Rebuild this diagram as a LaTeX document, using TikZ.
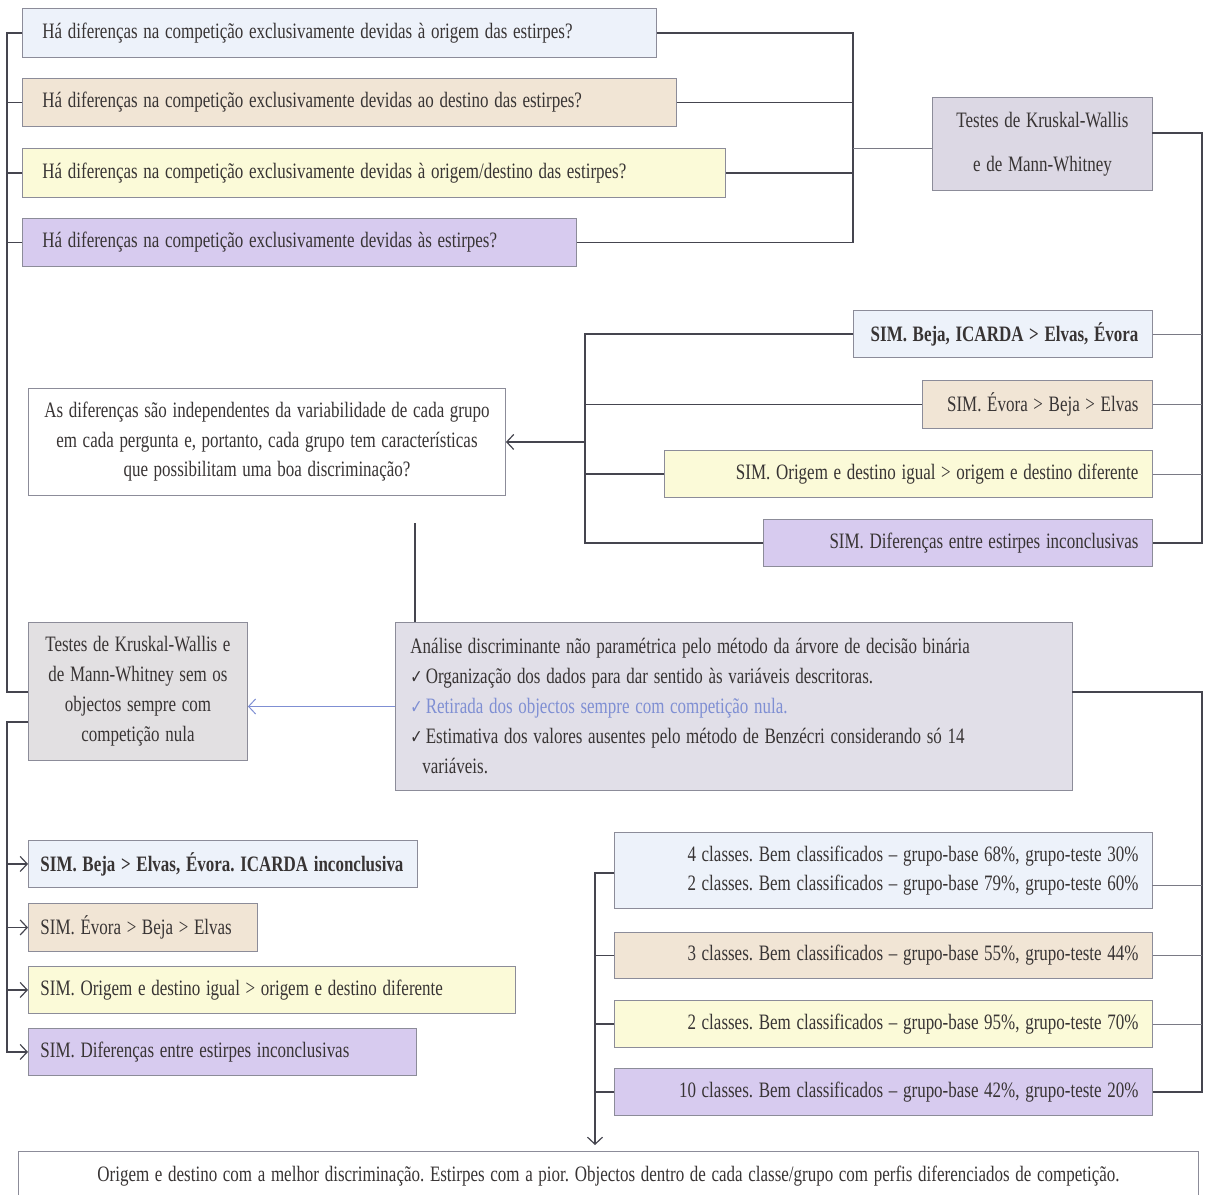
\documentclass[tikz,border=0pt]{standalone}
\usepackage{fontspec}
\usepackage{graphicx}
\setmainfont{Liberation Serif}
\newfontfamily\dejavu{DejaVu Sans}
\usetikzlibrary{arrows.meta,calc}
\definecolor{blueF}{HTML}{EDF2FA}
\definecolor{beigeF}{HTML}{F1E5D5}
\definecolor{yellowF}{HTML}{FBFAD8}
\definecolor{lavF}{HTML}{D7CBEF}
\definecolor{kwF}{HTML}{DCD8E4}
\definecolor{anF}{HTML}{E1DFE8}
\definecolor{tsF}{HTML}{E2E0E2}
\definecolor{bordc}{HTML}{8C8C99}
\definecolor{linec}{HTML}{45454F}
\definecolor{thinc}{HTML}{7A7A85}
\definecolor{txtc}{HTML}{383434}
\definecolor{blueA}{HTML}{7F8FD3}
\newcommand{\sx}[1]{\scalebox{0.772}[1]{#1}}
\newcommand{\ckm}{{\dejavu\fontsize{19}{19}\selectfont ✓}\hspace{4pt}}
\begin{document}
\begin{tikzpicture}[x=1pt,y=-1pt,
  font=\fontsize{22}{30}\selectfont\frenchspacing,
  box/.style={draw=bordc, line width=0.9pt, anchor=north west, inner ysep=0pt, text=txtc},
  ln/.style={draw=linec, line width=1.2pt},
  thinln/.style={draw=thinc, line width=0.7pt},
  blueln/.style={draw=blueA, line width=1pt},
  arr/.style={-{Straight Barb[length=7pt,width=15pt]}}]
\useasboundingbox (0,0) rectangle (1214,1194);
% top questions
\node[box, fill=blueF, align=left, inner xsep=20pt, text width=594pt, minimum height=49pt] (q1) at (22,8) {\sx{Há diferenças na competição exclusivamente devidas à origem das estirpes?}};
\node[box, fill=beigeF, align=left, inner xsep=20pt, text width=614pt, minimum height=48pt] (q2) at (22,78) {\sx{Há diferenças na competição exclusivamente devidas ao destino das estirpes?}};
\node[box, fill=yellowF, align=left, inner xsep=20pt, text width=663pt, minimum height=49pt] (q3) at (22,148) {\sx{Há diferenças na competição exclusivamente devidas à origem/destino das estirpes?}};
\node[box, fill=lavF, align=left, inner xsep=20pt, text width=514pt, minimum height=48pt] (q4) at (22,218) {\sx{Há diferenças na competição exclusivamente devidas às estirpes?}};
% Kruskal box
\node[box, fill=kwF, align=center, inner xsep=8pt, text width=204pt, minimum height=93pt, font=\fontsize{22}{44}\selectfont\frenchspacing] (kw) at (932,97) {\sx{Testes de Kruskal-Wallis}\\\sx{e de Mann-Whitney}};
% SIM right
\node[box, fill=blueF, align=right, inner xsep=14pt, text width=271pt, minimum height=47pt, font=\fontsize{22}{30}\selectfont\bfseries\frenchspacing] (s1) at (853,310) {\sx{SIM. Beja, ICARDA > Elvas, Évora}};
\node[box, fill=beigeF, align=right, inner xsep=14pt, text width=202pt, minimum height=48pt] (s2) at (922,380) {\sx{SIM. Évora > Beja > Elvas}};
\node[box, fill=yellowF, align=right, inner xsep=14pt, text width=460pt, minimum height=47pt] (s3) at (664,450) {\sx{SIM. Origem e destino igual > origem e destino diferente}};
\node[box, fill=lavF, align=right, inner xsep=14pt, text width=361pt, minimum height=47pt] (s4) at (763,519) {\sx{SIM. Diferenças entre estirpes inconclusivas}};
% As diferencas
\node[box, fill=white, align=center, inner xsep=8pt, text width=461pt, minimum height=107pt, font=\fontsize{22}{29.5}\selectfont\frenchspacing] (ad) at (28,388) {\sx{As diferenças são independentes da variabilidade de cada grupo}\\\sx{em cada pergunta e, portanto, cada grupo tem características}\\\sx{que possibilitam uma boa discriminação?}};
% Testes left
\node[box, fill=tsF, align=center, inner xsep=6pt, text width=207pt, minimum height=138pt] (ts) at (28,622) {\sx{Testes de Kruskal-Wallis e}\\\sx{de Mann-Whitney sem os}\\\sx{objectos sempre com}\\\sx{competição nula}};
% Analise
\node[box, fill=anF, align=left, inner xsep=15pt, text width=647pt, minimum height=168pt] (an) at (395,622) {\sx{Análise discriminante não paramétrica pelo método da árvore de decisão binária}\\
\sx{\ckm Organização dos dados para dar sentido às variáveis descritoras.}\\
{\color{blueA}\sx{\ckm Retirada dos objectos sempre com competição nula.}}\\
\sx{\ckm Estimativa dos valores ausentes pelo método de Benzécri considerando só 14}\\
\hspace*{12pt}\sx{variáveis.}};
% bottom-left SIM
\node[box, fill=blueF, align=left, inner xsep=12pt, text width=365pt, minimum height=47pt, font=\fontsize{22}{30}\selectfont\bfseries\frenchspacing] (b1) at (28,840) {\sx{SIM. Beja > Elvas, Évora. ICARDA inconclusiva}};
\node[box, fill=beigeF, align=left, inner xsep=12pt, text width=205pt, minimum height=48pt] (b2) at (28,903) {\sx{SIM. Évora > Beja > Elvas}};
\node[box, fill=yellowF, align=left, inner xsep=12pt, text width=463pt, minimum height=47pt] (b3) at (28,966) {\sx{SIM. Origem e destino igual > origem e destino diferente}};
\node[box, fill=lavF, align=left, inner xsep=12pt, text width=364pt, minimum height=47pt] (b4) at (28,1028) {\sx{SIM. Diferenças entre estirpes inconclusivas}};
% bottom-right classes
\node[box, fill=blueF, align=right, inner xsep=14pt, text width=510pt, minimum height=76pt, font=\fontsize{22}{29}\selectfont\frenchspacing] (r1) at (614,832) {\sx{4 classes. Bem classificados – grupo-base 68\%, grupo-teste 30\%}\\\sx{2 classes. Bem classificados – grupo-base 79\%, grupo-teste 60\%}};
\node[box, fill=beigeF, align=right, inner xsep=14pt, text width=510pt, minimum height=46pt] (r2) at (614,932) {\sx{3 classes. Bem classificados – grupo-base 55\%, grupo-teste 44\%}};
\node[box, fill=yellowF, align=right, inner xsep=14pt, text width=510pt, minimum height=47pt] (r3) at (614,1000) {\sx{2 classes. Bem classificados – grupo-base 95\%, grupo-teste 70\%}};
\node[box, fill=lavF, align=right, inner xsep=14pt, text width=510pt, minimum height=47pt] (r4) at (614,1068) {\sx{10 classes. Bem classificados – grupo-base 42\%, grupo-teste 20\%}};
% final
\node[box, fill=white, align=center, inner xsep=10pt, text width=1160pt, minimum height=50pt] (fin) at (18,1151) {\sx{Origem e destino com a melhor discriminação. Estirpes com a pior. Objectos dentro de cada classe/grupo com perfis diferenciados de competição.}};
% coordinates
\coordinate (xL) at (7,0);
\coordinate (xM) at (853,0);
\coordinate (xR) at (1202,0);
\coordinate (xB) at (585,0);
\coordinate (xC) at (595,0);
\coordinate (tsA) at (28,692);
\coordinate (tsB) at (28,722);
\coordinate (kwin) at (932,148);
\coordinate (kwout) at (1152,133);
\coordinate (anTop) at (415,523);
\coordinate (anR) at (1072,692);
\coordinate (r1R) at (1152,885);
\coordinate (r1L) at (614,873);
% left spine
\draw[ln] (q1.west) -| (xL |- tsA) -- (tsA);
\draw[ln] (q2.west) -- (q2.west -| xL);
\draw[ln] (q3.west) -- (q3.west -| xL);
\draw[ln] (q4.west) -- (q4.west -| xL);
\draw[ln,arr] (tsB) -- (tsB -| xL) |- (b4.west);
\draw[ln,arr] (b1.west -| xL) -- (b1.west);
\draw[ln,arr] (b2.west -| xL) -- (b2.west);
\draw[ln,arr] (b3.west -| xL) -- (b3.west);
% top right bracket
\draw[ln] (q1.east) -| (xM |- q4.east) -- (q4.east);
\draw[ln] (q2.east) -- (q2.east -| xM);
\draw[ln] (q3.east) -- (q3.east -| xM);
\draw[thinln] (xM |- kwin) -- (kwin);
% right spine
\draw[ln] (kwout) -| (xR |- s4.east) -- (s4.east);
\draw[thinln] (s1.east) -- (s1.east -| xR);
\draw[thinln] (s2.east) -- (s2.east -| xR);
\draw[thinln] (s3.east) -- (s3.east -| xR);
% SIM bracket to question
\draw[ln] (s1.west) -| (xB |- s4.west) -- (s4.west);
\draw[ln] (s2.west) -- (s2.west -| xB);
\draw[ln] (s3.west) -- (s3.west -| xB);
\draw[ln,arr] (xB |- ad.east) -- (ad.east);
% vertical into Analise
\draw[ln] (anTop) -- (anTop |- an.north);
% blue arrow
\draw[blueln,arr] (an.west) -- (an.west -| ts.east);
% right bottom spine
\draw[ln] (anR) -| (xR |- r4.east) -- (r4.east);
\draw[thinln] (r1R) -- (r1R -| xR);
\draw[thinln] (r2.east) -- (r2.east -| xR);
\draw[thinln] (r3.east) -- (r3.east -| xR);
% bottom bracket
\draw[ln,arr] (r1L) -- (r1L -| xC) -- ([yshift=6pt]xC |- fin.north);
\draw[ln] (r2.west) -- (r2.west -| xC);
\draw[ln] (r3.west) -- (r3.west -| xC);
\draw[ln] (r4.west) -- (r4.west -| xC);
\end{tikzpicture}
\end{document}
